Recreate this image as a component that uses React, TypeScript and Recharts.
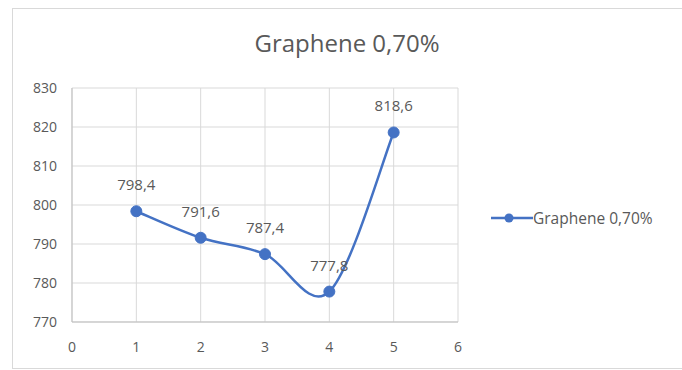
import { CartesianGrid, LabelList, Line, LineChart, XAxis, YAxis } from "recharts";

const xValues = [1, 2, 3, 4, 5];
const strength = [798.4, 791.6, 787.4, 777.8, 818.6];
const xTicks = [0, 1, 2, 3, 4, 5, 6];
const yTicks = [770, 780, 790, 800, 810, 820, 830];
const seriesName = "Graphene 0,70%";

const data = xValues.map((x, i) => ({ x, value: strength[i] }));

const FONT = "'Open Sans', 'Noto Sans', sans-serif";
const TEXT = "#595959";
const LINE = "#4472c4";

// Excel-like smoothed line: cubic bezier with Catmull-Rom control points
function excelSmooth(context: any) {
  let pts: number[][] = [];
  return {
    areaStart() {},
    areaEnd() {},
    lineStart() {
      pts = [];
    },
    point(x: number, y: number) {
      pts.push([+x, +y]);
    },
    lineEnd() {
      if (!pts.length) return;
      context.moveTo(pts[0][0], pts[0][1]);
      for (let i = 0; i < pts.length - 1; i++) {
        const p0 = pts[i - 1] || pts[i];
        const p1 = pts[i];
        const p2 = pts[i + 1];
        const p3 = pts[i + 2] || p2;
        context.bezierCurveTo(
          p1[0] + (p2[0] - p0[0]) / 6,
          p1[1] + (p2[1] - p0[1]) / 6,
          p2[0] - (p3[0] - p1[0]) / 6,
          p2[1] - (p3[1] - p1[1]) / 6,
          p2[0],
          p2[1]
        );
      }
    },
  };
}

function LegendBox() {
  return (
    <div
      style={{
        position: "absolute",
        left: 491,
        top: 207,
        display: "flex",
        alignItems: "center",
        fontFamily: FONT,
        fontSize: 15.5,
        color: TEXT,
      }}
    >
      <svg width={42} height={20}>
        <line x1={0} y1={10} x2={42} y2={10} stroke={LINE} strokeWidth={2.5} />
        <circle cx={18} cy={10} r={4.5} fill={LINE} />
      </svg>
      <span>{seriesName}</span>
    </div>
  );
}

export default function App() {
  return (
    <div style={{ position: "absolute", left: 0, top: 0, width: 682, height: 370, background: "#fff", overflow: "hidden" }}>
      <div
        style={{
          position: "absolute",
          left: 12,
          top: 8,
          width: 680,
          height: 361,
          border: "1px solid #d9d9d9",
          boxSizing: "border-box",
        }}
      />
      <div
        style={{
          position: "absolute",
          top: 26,
          left: 0,
          width: 694,
          textAlign: "center",
          fontFamily: FONT,
          fontSize: 24,
          color: TEXT,
        }}
      >
        {seriesName}
      </div>
      <LineChart
        width={682}
        height={370}
        data={data}
        margin={{ top: 88, right: 224, bottom: 0, left: 0 }}
        style={{ position: "absolute", left: 0, top: 0 }}
      >
        <CartesianGrid stroke="#d9d9d9" strokeWidth={1} />
        <XAxis
          type="number"
          dataKey="x"
          domain={[0, 6]}
          ticks={xTicks}
          tickLine={false}
          axisLine={{ stroke: "#bfbfbf" }}
          tick={{ fill: TEXT, fontSize: 14, fontFamily: FONT }}
          tickSize={0}
          tickMargin={20}
          height={48}
        />
        <YAxis
          type="number"
          domain={[770, 830]}
          ticks={yTicks}
          tickLine={false}
          axisLine={{ stroke: "#bfbfbf" }}
          tick={{ fill: TEXT, fontSize: 14, fontFamily: FONT }}
          tickSize={0}
          tickMargin={15}
          width={72}
        />
        <Line
          type={excelSmooth as any}
          dataKey="value"
          name={seriesName}
          stroke={LINE}
          strokeWidth={2.5}
          dot={{ r: 5.5, fill: LINE, stroke: LINE, strokeWidth: 1 }}
          isAnimationActive={false}
        >
          <LabelList
            dataKey="value"
            position="top"
            offset={21}
            formatter={(v: number) => v.toFixed(1).replace(".", ",")}
            style={{ fill: TEXT, fontSize: 15, fontFamily: FONT }}
          />
        </Line>
      </LineChart>
      <LegendBox />
    </div>
  );
}
